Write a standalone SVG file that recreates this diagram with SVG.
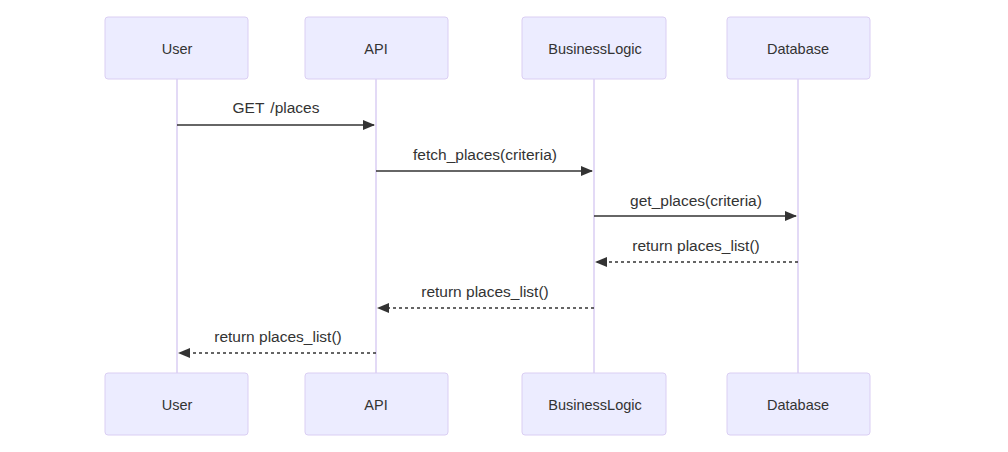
<svg xmlns="http://www.w3.org/2000/svg" width="1008" height="452" viewBox="0 0 1008 452">
<style>
.actor{fill:#ECECFF;stroke:#DACEF3;stroke-width:1}
.lbl{font-family:"Liberation Sans",Arial,sans-serif;font-size:15.5px;fill:#333;text-anchor:middle;dominant-baseline:central}
.alb{font-size:14.5px}
.life{stroke:#DACEF3;stroke-width:1.5}
.msg{stroke:#333;stroke-width:1.5;fill:none}
.dash{stroke-dasharray:3,3}
</style>
<defs>
<marker id="ah" viewBox="0 0 12 12" refX="11" refY="6" markerWidth="12" markerHeight="12" markerUnits="userSpaceOnUse" orient="auto">
<path d="M0,1 L12,6 L0,11 z" fill="#333"/>
</marker>
</defs>
<rect width="1008" height="452" fill="#fff"/>
<g id="lifelines">
<line class="life" x1="177" y1="79" x2="177" y2="373"/>
<line class="life" x1="376" y1="79" x2="376" y2="373"/>
<line class="life" x1="594" y1="79" x2="594" y2="373"/>
<line class="life" x1="798" y1="79" x2="798" y2="373"/>
</g>
<g id="user-top"><rect class="actor" x="105" y="17" width="143" height="62" rx="3"/><text class="lbl alb" x="177" y="49">User</text></g>
<g id="api-top"><rect class="actor" x="305" y="17" width="143" height="62" rx="3"/><text class="lbl alb" x="376" y="49">API</text></g>
<g id="bl-top"><rect class="actor" x="522" y="17" width="144" height="62" rx="3"/><text class="lbl alb" x="595" y="49">BusinessLogic</text></g>
<g id="db-top"><rect class="actor" x="727" y="17" width="143" height="62" rx="3"/><text class="lbl alb" x="798" y="49">Database</text></g>
<g id="user-bottom"><rect class="actor" x="105" y="373" width="143" height="62" rx="3"/><text class="lbl alb" x="177" y="405">User</text></g>
<g id="api-bottom"><rect class="actor" x="305" y="373" width="143" height="62" rx="3"/><text class="lbl alb" x="376" y="405">API</text></g>
<g id="bl-bottom"><rect class="actor" x="522" y="373" width="144" height="62" rx="3"/><text class="lbl alb" x="595" y="405">BusinessLogic</text></g>
<g id="db-bottom"><rect class="actor" x="727" y="373" width="143" height="62" rx="3"/><text class="lbl alb" x="798" y="405">Database</text></g>
<g id="connectors">
<line class="msg" x1="177" y1="125" x2="374" y2="125" marker-end="url(#ah)"/>
<text class="lbl" x="276" y="107" word-spacing="2">GET /places</text>
<line class="msg" x1="376" y1="171" x2="592" y2="171" marker-end="url(#ah)"/>
<text class="lbl" x="485" y="154">fetch_places(criteria)</text>
<line class="msg" x1="594" y1="216" x2="796" y2="216" marker-end="url(#ah)"/>
<text class="lbl" x="696" y="200">get_places(criteria)</text>
<line class="msg dash" x1="798" y1="262" x2="596" y2="262" marker-end="url(#ah)"/>
<text class="lbl" x="696" y="245">return places_list()</text>
<line class="msg dash" x1="594" y1="308" x2="378" y2="308" marker-end="url(#ah)"/>
<text class="lbl" x="485" y="291">return places_list()</text>
<line class="msg dash" x1="376" y1="353" x2="179" y2="353" marker-end="url(#ah)"/>
<text class="lbl" x="278" y="336">return places_list()</text>
</g>
</svg>
